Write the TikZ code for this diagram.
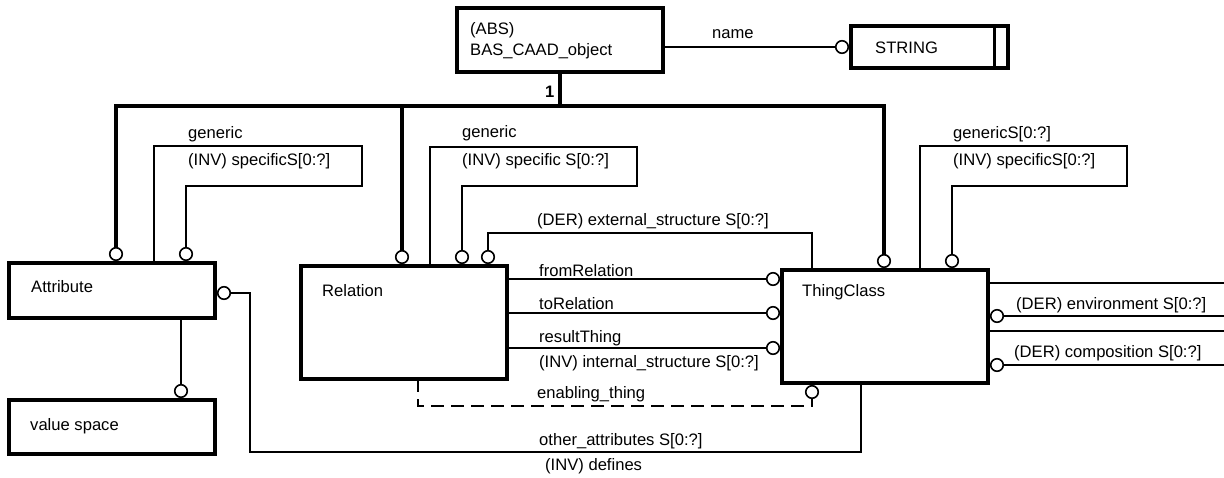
\documentclass[tikz,border=0pt]{standalone}
\usepackage{fontspec}
\setmainfont{Liberation Sans}
\begin{document}
\begin{tikzpicture}[x=1pt,y=-1pt,
  font=\fontsize{16.6}{19}\selectfont,
  ent/.style={draw, line width=3.5pt, inner sep=0pt, outer sep=0pt, anchor=north west},
  rel/.style={line width=1.6pt},
  thk/.style={line width=3.2pt},
  opt/.style={circle, draw, fill=white, line width=1.6pt, minimum size=12.5pt, inner sep=0pt, outer sep=0pt},
  lbl/.style={anchor=base west, inner sep=0pt}]
\useasboundingbox (0,0) rectangle (1224,477);

% entities
\node[ent, minimum width=206pt, minimum height=64pt] (bas) at (457,8) {};
\node[ent, minimum width=157pt, minimum height=42pt] (str) at (851,26) {};
\node[ent, minimum width=206pt, minimum height=55pt] (attr) at (9,263) {};
\node[ent, minimum width=206pt, minimum height=54pt] (vs) at (9,400) {};
\node[ent, minimum width=206pt, minimum height=113pt] (rel) at (301,266) {};
\node[ent, minimum width=206pt, minimum height=113pt] (tc) at (782,270) {};
\draw[line width=3pt] ([xshift=-14pt]str.north east) -- ([xshift=-14pt]str.south east);

% entity texts
\node[lbl] (tabs) at (470,34) {(ABS)};
\node[lbl] (tbas) at (470,55) {BAS\_CAAD\_object};
\node[lbl] (tstr) at (875,53) {STRING};
\node[lbl] (tattr) at (31,292) {Attribute};
\node[lbl] (tvs) at (30,430) {value space};
\node[lbl] (trel) at (322,296) {Relation};
\node[lbl] (ttc) at (802,296) {ThingClass};

% optional circles
\node[opt] (cName) at (842,47) {};
\node[opt] (cA1) at (116,254) {};
\node[opt] (cA2) at (186,254) {};
\node[opt] (cAr) at (224,293) {};
\node[opt] (cV) at (181,391) {};
\node[opt] (cR1) at (402,257) {};
\node[opt] (cR2) at (462,257) {};
\node[opt] (cR3) at (488,257) {};
\node[opt] (cT1) at (884,261) {};
\node[opt] (cT2) at (952,261) {};
\node[opt] (cF) at (773,279) {};
\node[opt] (cTo) at (773,313) {};
\node[opt] (cRes) at (773,348) {};
\node[opt] (cE) at (812,392) {};
\node[opt] (cEnv) at (997,316) {};
\node[opt] (cComp) at (997,365) {};

\coordinate (tL) at (116,106);
\coordinate (tR) at (884,106);
\coordinate (edge) at (1224,0);

% supertype tree
\draw[thk] (bas.south) -- (bas.south |- tL);
\draw[thk] (cA1.north) -- (tL) -- (tR) -- (cT1.north);
\draw[thk] (cR1.north) -- (cR1.north |- tL);
\node[lbl, font=\fontsize{16.6}{19}\selectfont\bfseries] (one) at (545,97) {1};

% name
\draw[rel] (bas.east |- cName) -- (cName.west);
\node[lbl] (lname) at (712,38) {name};

% Attribute generic loop
\draw[rel] ([xshift=145pt]attr.north west) |- (362,146) -- (362,186) -| (cA2.north);
\node[lbl] (lag) at (188,138) {generic};
\node[lbl] (las) at (188,165) {(INV) specificS[0:?]};

% Relation generic loop
\draw[rel] ([xshift=129pt]rel.north west) |- (637,147) -- (637,186) -| (cR2.north);
\node[lbl] (lrg) at (462,137) {generic};
\node[lbl] (lrs) at (462,165) {(INV) specific S[0:?]};

% external structure
\draw[rel] (cR3.north) |- (812,233) -- ([xshift=30pt]tc.north west);
\node[lbl] (lext) at (537,225) {(DER) external\_structure S[0:?]};

% ThingClass generic loop
\draw[rel] ([xshift=138pt]tc.north west) |- (1127,146) -- (1127,186) -| (cT2.north);
\node[lbl] (ltg) at (953,138) {genericS[0:?]};
\node[lbl] (lts) at (953,165) {(INV) specificS[0:?]};

% Relation -> ThingClass
\draw[rel] (rel.east |- cF) -- (cF.west);
\draw[rel] (rel.east |- cTo) -- (cTo.west);
\draw[rel] (rel.east |- cRes) -- (cRes.west);
\node[lbl] (lfr) at (539,276) {fromRelation};
\node[lbl] (ltr) at (539,309) {toRelation};
\node[lbl] (lrt) at (539,342) {resultThing};
\node[lbl] (lis) at (539,367) {(INV) internal\_structure S[0:?]};

% enabling thing
\draw[rel, dash pattern=on 13pt off 7pt] ([xshift=117pt]rel.south west) -- ++(0,27) -| (cE.south);
\node[lbl] (len) at (537,398) {enabling\_thing};

% other attributes
\draw[rel] (cAr.east) -| (250,452) -| ([xshift=79pt]tc.south west);
\node[lbl] (loa) at (539,445) {other\_attributes S[0:?]};
\node[lbl] (ldef) at (545,470) {(INV) defines};

% value space
\draw[rel] (attr.south -| cV) -- (cV.north);

% ThingClass right side
\draw[rel] ([yshift=-13pt]tc.north east) -- ([yshift=-13pt]tc.north east -| edge);
\draw[rel] (cEnv.east) -- (cEnv.east -| edge);
\draw[rel] ([yshift=-61pt]tc.north east) -- ([yshift=-61pt]tc.north east -| edge);
\draw[rel] (cComp.east) -- (cComp.east -| edge);
\node[lbl] (lenv) at (1016,309) {(DER) environment S[0:?]};
\node[lbl] (lcomp) at (1014,357) {(DER) composition S[0:?]};
\end{tikzpicture}
\end{document}
